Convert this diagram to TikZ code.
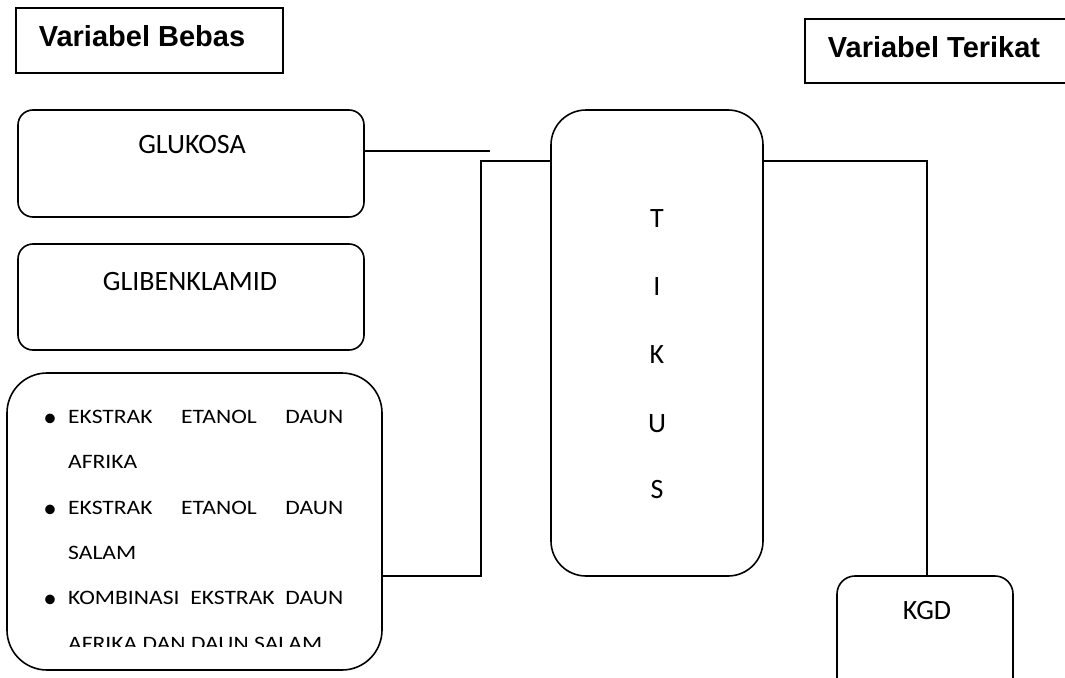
\documentclass[tikz,border=0pt]{standalone}
\usepackage{fontspec}
\setmainfont{Carlito}
\newfontfamily\headfont{Liberation Sans}
\newfontfamily\itemfont[FakeStretch=1.15]{Carlito}

\tikzset{
  varbox/.style={draw, line width=1.6pt, inner sep=0pt, outer sep=0pt},
  roundbox/.style={varbox, rounded corners=15pt},
  headtext/.style={anchor=base, inner sep=0pt, font=\headfont\bfseries\fontsize{29}{35}\selectfont},
  boxtext/.style={anchor=base, inner sep=0pt, font=\fontsize{28}{34}\selectfont},
  itemtext/.style={anchor=base west, inner sep=0pt, font=\itemfont\fontsize{20.5}{25}\selectfont},
  itemdot/.style={anchor=base, inner sep=0pt, font=\fontsize{27}{30}\selectfont},
  link/.style={line width=1.6pt}
}

\begin{document}
\begin{tikzpicture}[x=1pt, y=-1pt]
    \useasboundingbox (0,0) rectangle (1065,677);
    \clip (0,0) rectangle (1065,677);

    % headings
    \node[varbox, minimum width=267pt, minimum height=65pt] (bebas) at (149.5,40.5) {};
    \node[headtext] (bebastxt) at (142,47) {Variabel Bebas};
    \node[varbox, minimum width=270pt, minimum height=64pt] (terikat) at (940,51) {};
    \node[headtext] (terikattxt) at (934,57) {Variabel Terikat};

    % independent variables
    \node[roundbox, minimum width=346pt, minimum height=107pt] (glukosa) at (191,163.5) {};
    \node[boxtext] (glukosatxt) at (192,153) {GLUKOSA};
    \node[roundbox, minimum width=346pt, minimum height=106pt] (gliben) at (191,297) {};
    \node[boxtext] (glibentxt) at (190,290) {GLIBENKLAMID};
    \node[roundbox, rounded corners=40pt, minimum width=375pt, minimum height=297pt] (ekstrak) at (194.5,521.5) {};

    \node[itemdot] (dot1) at (50,426) {\textbullet};
    \node[itemtext] (item1a) at (68,423) {\makebox[275pt][s]{EKSTRAK ETANOL DAUN}};
    \node[itemtext] (item1b) at (68,468) {AFRIKA};
    \node[itemdot] (dot2) at (50,517) {\textbullet};
    \node[itemtext] (item2a) at (68,514) {\makebox[275pt][s]{EKSTRAK ETANOL DAUN}};
    \node[itemtext] (item2b) at (68,559) {SALAM};
    \node[itemdot] (dot3) at (50,607) {\textbullet};
    \node[itemtext] (item3a) at (68,604) {\makebox[275pt][s]{KOMBINASI EKSTRAK DAUN}};
    \begin{scope}
      \clip (0,0) rectangle (1065,646);
      \node[itemtext] (item3b) at (68,650) {AFRIKA DAN DAUN SALAM};
    \end{scope}

    % subject
    \node[roundbox, rounded corners=35pt, minimum width=212pt, minimum height=466pt] (tikus) at (657,343) {};
    \node[boxtext] (t1) at (657,227) {T};
    \node[boxtext] (t2) at (657,295) {I};
    \node[boxtext] (t3) at (657,363) {K};
    \node[boxtext] (t4) at (657,432) {U};
    \node[boxtext] (t5) at (657,498) {S};

    % dependent variable
    \node[roundbox, rounded corners=18pt, minimum width=176pt, minimum height=140pt] (kgd) at (925,646) {};
    \node[boxtext] (kgdtxt) at (927,619) {KGD};

    % connectors
    \coordinate (gend) at (490,151);
    \coordinate (jbot) at (481,576);
    \coordinate (jtop) at (481,161);
    \coordinate (kturn) at (927,161);
    \draw[link] (glukosa.east |- gend) -- (gend);
    \draw[link] (ekstrak.east |- jbot) -- (jbot) -- (jtop) -- (tikus.west |- jtop);
    \draw[link] (tikus.east |- kturn) -- (kturn) -- (kturn |- kgd.north);
\end{tikzpicture}
\end{document}
